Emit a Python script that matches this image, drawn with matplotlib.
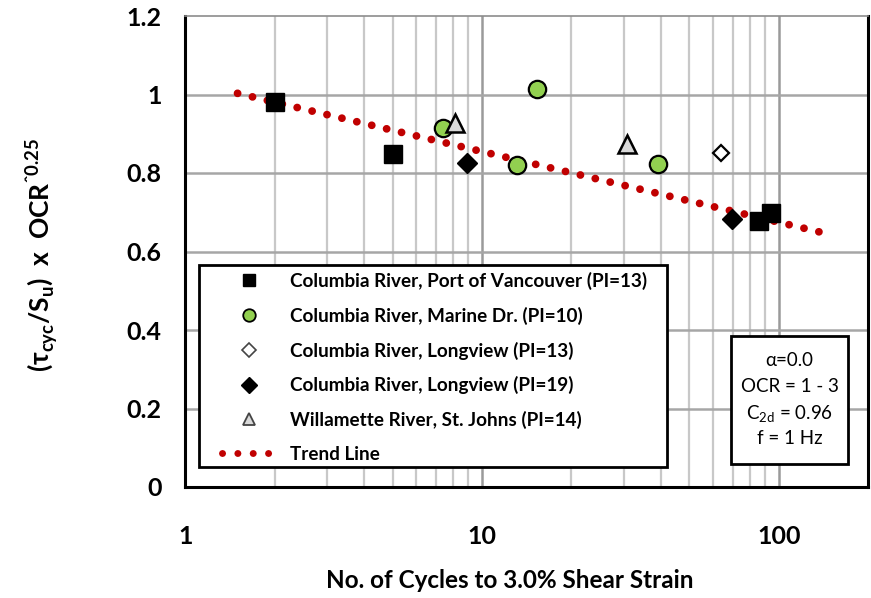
import matplotlib
matplotlib.use("Agg")
import matplotlib.pyplot as plt
from matplotlib.lines import Line2D
from matplotlib.patches import Rectangle
from matplotlib.ticker import FixedLocator, NullFormatter

plt.rcParams['font.family'] = ['Lato', 'DejaVu Sans']

# Cyclic stress ratio data by site
vanc_x = [2.0, 5.0, 85.6, 94.3]
vanc_y = [0.980, 0.848, 0.678, 0.699]

marine_x = [7.4, 13.1, 15.3, 39.1]
marine_y = [0.914, 0.820, 1.013, 0.822]

long13_x = [64.0]
long13_y = [0.852]

long19_x = [8.9, 69.5]
long19_y = [0.825, 0.683]

will_x = [8.1, 30.9]
will_y = [0.927, 0.874]

trend_x = [1.5, 146.0]
trend_y = [1.003, 0.645]

labels = [
    "Columbia River, Port of Vancouver (PI=13)",
    "Columbia River, Marine Dr. (PI=10)",
    "Columbia River, Longview (PI=13)",
    "Columbia River, Longview (PI=19)",
    "Willamette River, St. Johns (PI=14)",
    "Trend Line",
]

fig = plt.figure(figsize=(8.71, 5.98), dpi=100)
ax = fig.add_axes([185.3 / 871, 1 - 487 / 598, 682.7 / 871, 471 / 598])
ax.set_xscale('log')
ax.set_xlim(1, 200)
ax.set_ylim(0, 1.2)

# grid
minor = [m * d for d in (1, 10, 100) for m in range(2, 10) if m * d < 200]
for v in minor:
    ax.axvline(v, color='#c8c8c8', lw=1.6, zorder=0)
for v in (10, 100):
    ax.axvline(v, color='#9a9a9a', lw=1.8, zorder=0)
for v in (0.2, 0.4, 0.6, 0.8, 1.0):
    ax.axhline(v, color='#a6a6a6', lw=1.8, zorder=0)

red = '#c00000'
ax.plot(trend_x, trend_y, color=red, lw=5.6, linestyle=(0, (0.01, 1.96)),
        dash_capstyle='round', zorder=2)

ax.plot(vanc_x, vanc_y, 's', ms=13.5, mfc='black', mec='black', zorder=3)
ax.plot(marine_x, marine_y, 'o', ms=12.5, mfc='#92d050', mec='black', mew=1.6, zorder=3)
ax.plot(long13_x, long13_y, 'D', ms=8.5, mfc='white', mec='black', mew=1.6, zorder=3)
ax.plot(long19_x, long19_y, 'D', ms=10, mfc='black', mec='black', zorder=3)
ax.plot(will_x, will_y, '^', ms=13, mfc='#d9d9d9', mec='black', mew=1.8, zorder=4)

# ticks
ax.xaxis.set_major_locator(FixedLocator([1, 10, 100]))
ax.xaxis.set_minor_formatter(NullFormatter())
ax.set_xticklabels(['1', '10', '100'])
ax.set_yticks([0, 0.2, 0.4, 0.6, 0.8, 1.0, 1.2])
ax.set_yticklabels(['0', '0.2', '0.4', '0.6', '0.8', '1', '1.2'])
ax.tick_params(axis='both', which='both', length=0, labelsize=18)
ax.tick_params(axis='x', pad=27)
ax.tick_params(axis='y', pad=17)
for t in ax.get_xticklabels() + ax.get_yticklabels():
    t.set_fontweight('bold')

ax.set_xlabel("No. of Cycles to 3.0% Shear Strain", fontsize=17.5,
              fontweight='bold', va='center')
ax.set_ylabel(r"(τ$_\mathregular{cyc}$/S$_\mathregular{u}$)  x  OCR$^\mathregular{ˆ0.25}$",
              fontsize=19, fontweight='bold', va='center')

for side in ('left', 'bottom', 'right'):
    ax.spines[side].set_color('black')
    ax.spines[side].set_linewidth(2.2)
ax.spines['top'].set_color('#8c8c8c')
ax.spines['top'].set_linewidth(1.2)


def ax_x(px):
    return (px - 185.3) / 682.7


def ax_y(py):
    return (487 - py) / 471


ax.yaxis.set_label_coords(ax_x(42), ax_y(255))
ax.xaxis.set_label_coords(ax_x(509.5), ax_y(580))

# legend frame and entries
ax.add_patch(Rectangle((ax_x(199), ax_y(467)), ax_x(667) - ax_x(199), ax_y(265) - ax_y(467),
                       transform=ax.transAxes, facecolor='white', edgecolor='black',
                       lw=2.0, zorder=5))

handles = [
    Line2D([], [], marker='s', ls='none', ms=9, mfc='black', mec='black'),
    Line2D([], [], marker='o', ls='none', ms=9, mfc='#92d050', mec='black', mew=1.3),
    Line2D([], [], marker='D', ls='none', ms=7, mfc='white', mec='#444444', mew=1.2),
    Line2D([], [], marker='D', ls='none', ms=8, mfc='black', mec='black'),
    Line2D([], [], marker='^', ls='none', ms=9, mfc='#d9d9d9', mec='#444444', mew=1.3),
    Line2D([], [], color=red, lw=5.0, ls=(0, (0.01, 2.2)), dash_capstyle='round'),
]
leg = ax.legend(handles, labels, loc='upper left',
                bbox_to_anchor=(ax_x(222), ax_y(272)), borderpad=0, borderaxespad=0,
                frameon=False, prop={'weight': 'bold', 'size': 13.6},
                handlelength=2.9, handletextpad=0.7, labelspacing=0.88)
leg.set_zorder(6)

# test condition box
ax.add_patch(Rectangle((ax_x(730.7), ax_y(464)), ax_x(848) - ax_x(730.7), ax_y(336) - ax_y(464),
                       transform=ax.transAxes, facecolor='white', edgecolor='black',
                       lw=2.0, zorder=5))
cx = ax_x(789.5)
box_lines = ["α=0.0", "OCR = 1 - 3", r"C$_\mathregular{2d}$ = 0.96", "f = 1 Hz"]
box_y = [360, 387, 414, 438]
for txt, yy in zip(box_lines, box_y):
    ax.text(cx, ax_y(yy), txt, transform=ax.transAxes, ha='center', va='center',
            fontsize=13.5, zorder=6)

fig.savefig("out.png", dpi=100)
